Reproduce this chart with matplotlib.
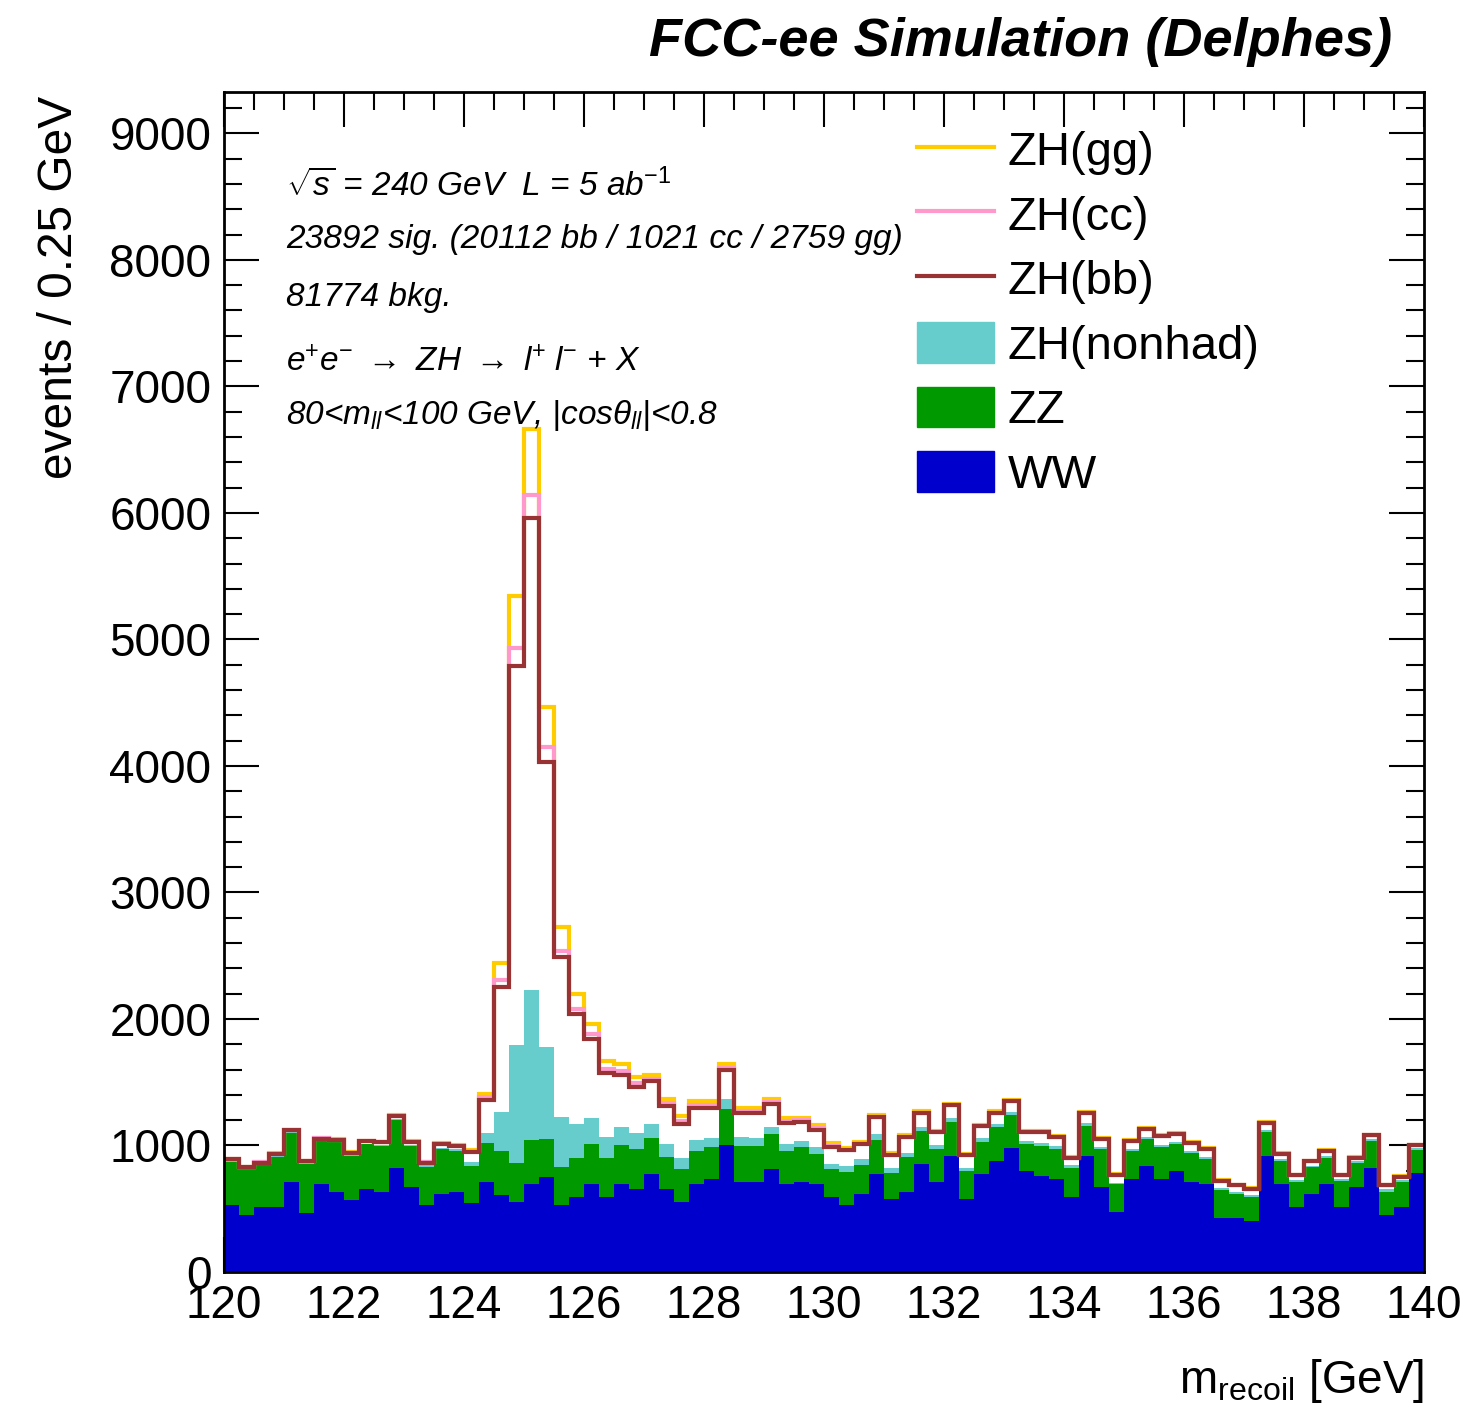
import matplotlib
matplotlib.use("Agg")
import matplotlib.pyplot as plt
from matplotlib.lines import Line2D
from matplotlib.patches import Patch
from matplotlib.ticker import MultipleLocator
import numpy as np

plt.rcParams['font.family'] = ['Liberation Sans', 'DejaVu Sans']
plt.rcParams['mathtext.fontset'] = 'custom'
plt.rcParams['mathtext.rm'] = 'Liberation Sans'
plt.rcParams['mathtext.it'] = 'Liberation Sans:italic'
plt.rcParams['mathtext.bf'] = 'Liberation Sans:bold'

# m_recoil binning: 120-140 GeV, 0.25 GeV per bin
x_lo, x_hi, bin_w = 120.0, 140.0, 0.25

# per-process yields per bin (events / 0.25 GeV)
ww = [529, 448, 511, 511, 711, 469, 695, 632, 571, 653,
      635, 819, 674, 529, 614, 632, 548, 711, 611, 550,
      695, 753, 532, 590, 695, 590, 695, 653, 774, 653,
      550, 695, 735, 1001, 714, 714, 814, 695, 714, 695,
      590, 529, 614, 777, 574, 632, 856, 714, 919, 574,
      777, 880, 982, 798, 758, 737, 590, 919, 674, 471,
      737, 837, 737, 795, 714, 695, 429, 429, 406, 919,
      695, 511, 614, 695, 511, 674, 819, 450, 511, 780]

zz = [343, 363, 334, 400, 390, 384, 337, 392, 343, 355,
      360, 384, 321, 303, 355, 327, 286, 308, 348, 308,
      348, 295, 300, 308, 316, 308, 308, 319, 287, 258,
      264, 263, 250, 287, 284, 284, 276, 263, 271, 237,
      221, 264, 231, 266, 211, 279, 258, 258, 269, 224,
      253, 263, 258, 213, 240, 238, 234, 237, 295, 222,
      222, 214, 253, 216, 223, 198, 219, 187, 189, 190,
      185, 203, 213, 208, 210, 190, 216, 185, 203, 184]

zh_nonhad = [4, 3, 5, 4, 6, 5, 5, 6, 7, 6,
             8, 7, 9, 10, 11, 10, 38, 82, 308, 933,
             1185, 727, 395, 271, 203, 171, 140, 123, 106, 100,
             89, 85, 76, 76, 71, 63, 58, 50, 50, 58,
             42, 44, 45, 45, 39, 32, 29, 31, 31, 25,
             26, 26, 27, 24, 18, 20, 21, 19, 16, 13,
             10, 18, 13, 19, 22, 18, 18, 19, 13, 13,
             13, 13, 10, 13, 14, 13, 13, 21, 13, 13]

zh_bb = [14, 12, 15, 17, 14, 16, 18, 15, 20, 19,
         22, 21, 24, 23, 28, 26, 76, 258, 982, 2996,
         3729, 2257, 1259, 867, 627, 500, 417, 369, 342, 300,
         269, 253, 239, 229, 187, 197, 182, 172, 150, 129,
         134, 124, 124, 136, 103, 123, 116, 103, 98, 98,
         97, 90, 81, 71, 90, 71, 58, 84, 68, 58,
         66, 63, 69, 60, 60, 58, 53, 49, 45, 52,
         42, 37, 37, 40, 29, 26, 32, 28, 23, 23]

zh_cc = [1, 1, 1, 1, 1, 1, 1, 1, 1, 1,
         1, 1, 1, 1, 1, 2, 6, 21, 58, 143,
         184, 116, 50, 42, 37, 32, 30, 28, 18, 22,
         24, 22, 20, 20, 18, 16, 16, 16, 15, 16,
         12, 2, 2, 2, 1, 1, 1, 1, 1, 1,
         1, 1, 1, 1, 1, 1, 1, 1, 1, 1,
         1, 1, 1, 1, 1, 1, 1, 1, 1, 1,
         1, 1, 1, 1, 1, 1, 1, 1, 1, 1]

zh_gg = [3, 2, 3, 4, 3, 4, 3, 4, 5, 4,
         5, 6, 5, 6, 8, 10, 14, 26, 139, 416,
         521, 321, 187, 116, 81, 68, 53, 51, 34, 36,
         39, 36, 32, 28, 24, 20, 20, 24, 20, 28,
         17, 16, 14, 13, 12, 12, 11, 10, 10, 11,
         9, 10, 9, 9, 8, 9, 8, 8, 9, 7,
         8, 7, 7, 8, 6, 7, 6, 6, 6, 7,
         6, 5, 6, 5, 5, 6, 5, 5, 4, 5]

labels = ["ZH(gg)", "ZH(cc)", "ZH(bb)", "ZH(nonhad)", "ZZ", "WW"]
colors = {"WW": "#0000cc", "ZZ": "#009900", "ZH(nonhad)": "#66cccc",
          "ZH(bb)": "#993333", "ZH(cc)": "#ff99cc", "ZH(gg)": "#ffcc00"}

edges = np.arange(x_lo, x_hi + bin_w / 2, bin_w)

# stack
s_ww = np.array(ww, dtype=float)
s_zz = s_ww + np.array(zz)
s_nh = s_zz + np.array(zh_nonhad)
s_bb = s_nh + np.array(zh_bb)
s_cc = s_bb + np.array(zh_cc)
s_gg = s_cc + np.array(zh_gg)

fig = plt.figure(figsize=(14.65, 14.15), dpi=100)
ax = fig.add_axes([224 / 1465, 143 / 1415, 1200 / 1465, 1180 / 1415])

ax.stairs(s_nh, edges, fill=True, color=colors["ZH(nonhad)"], zorder=1)
ax.stairs(s_zz, edges, fill=True, color=colors["ZZ"], zorder=2)
ax.stairs(s_ww, edges, fill=True, color=colors["WW"], zorder=3)
ax.stairs(s_gg, edges, baseline=None, color=colors["ZH(gg)"], lw=3, zorder=4)
ax.stairs(s_cc, edges, baseline=None, color=colors["ZH(cc)"], lw=3, zorder=5)
ax.stairs(s_bb, edges, baseline=None, color=colors["ZH(bb)"], lw=3, zorder=6)

ax.set_xlim(x_lo, x_hi)
ax.set_ylim(0, 1.4 * s_gg.max())

ax.xaxis.set_major_locator(MultipleLocator(2))
ax.xaxis.set_minor_locator(MultipleLocator(0.5))
ax.yaxis.set_major_locator(MultipleLocator(1000))
ax.yaxis.set_minor_locator(MultipleLocator(200))
ax.tick_params(which="both", direction="in", top=True, right=True,
               width=1.5, labelsize=33, pad=9)
ax.tick_params(which="major", length=25)
ax.tick_params(which="minor", length=13)
for sp in ax.spines.values():
    sp.set_linewidth(2)
    sp.set_zorder(10)

ax.set_xlabel(r"m$_{\rm recoil}$ [GeV]", fontsize=33, loc="right")
ax.xaxis.set_label_coords(1.0, -0.072)
ax.set_ylabel("events / 0.25 GeV", fontsize=34.5, loc="top")
ax.yaxis.set_label_coords(-0.137, 0.997)
ax.yaxis.label.set_va("center")

fig.text(1392 / 1465, 1 - 42 / 1415, "FCC-ee Simulation (Delphes)",
         ha="right", va="center", fontsize=39, fontweight="bold", style="italic")

info = [
    r"$\sqrt{s}$ = 240 GeV  L = 5 ab$^{\mathit{-1}}$",
    "23892 sig. (20112 bb / 1021 cc / 2759 gg)",
    "81774 bkg.",
    r"e$^{+}$e$^{-}$ $\rightarrow$ ZH $\rightarrow$ l$^{+}$ l$^{-}$ + X",
    r"80<m$_{\mathit{ll}}$<100 GeV, |cos$\theta_{\mathit{ll}}$|<0.8",
]
info_y = [0.912, 0.868, 0.819, 0.763, 0.719]
for t, yy in zip(info, info_y):
    ax.text(0.0517, yy, t, transform=ax.transAxes, fontsize=24,
            style="italic", va="baseline", ha="left", zorder=12)

handles = [
    Line2D([], [], color=colors["ZH(gg)"], lw=3),
    Line2D([], [], color=colors["ZH(cc)"], lw=3),
    Line2D([], [], color=colors["ZH(bb)"], lw=3),
    Patch(color=colors["ZH(nonhad)"]),
    Patch(color=colors["ZZ"]),
    Patch(color=colors["WW"]),
]
ax.legend(handles, labels, loc="upper left", bbox_to_anchor=(0.5775, 0.969),
          frameon=False, fontsize=34, handlelength=1.62, handleheight=0.95,
          handletextpad=0.3, labelspacing=0.38, borderpad=0, borderaxespad=0)

fig.savefig("out.png", dpi=100)
